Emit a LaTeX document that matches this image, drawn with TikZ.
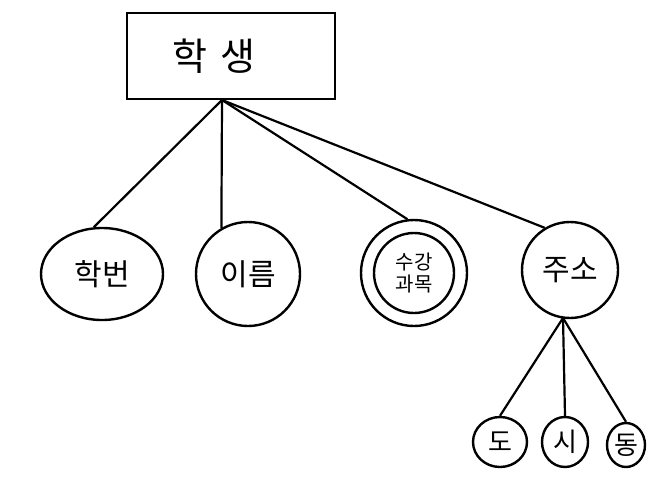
\documentclass[tikz,border=0pt]{standalone}
\usepackage{fontspec}
\newfontfamily\kr{Noto Sans CJK KR}
\usetikzlibrary{shapes.geometric}
\begin{document}
\begin{tikzpicture}[x=1pt,y=-1pt,line width=2.4pt,
  entity/.style={draw,rectangle,minimum width=208pt,minimum height=86pt,font=\kr\fontsize{38}{40}\selectfont},
  attr/.style={draw,circle,font=\kr\fontsize{30}{32}\selectfont,inner sep=0pt},
  small/.style={draw,ellipse,font=\kr\fontsize{26}{28}\selectfont,inner sep=0pt},
  link/.style={line width=2.2pt}]
\useasboundingbox (0,0) rectangle (652,492);
\node[entity] (st) at (231,56) {\hspace{-34pt}학\hspace{14pt}생};
\coordinate (o) at (222,100);
\node[draw,ellipse,minimum width=122pt,minimum height=92pt,inner sep=0pt,font=\kr\fontsize{30}{32}\selectfont] (hb) at (102,274) {학번};
\node[attr,minimum size=104pt] (nm) at (248,274) {이름};
\node[attr,minimum size=106pt] (sk) at (414,273) {};
\node[draw,circle,minimum size=80pt,font=\kr\fontsize{20}{22}\selectfont,align=center,inner sep=0pt] (ski) at (414,273) {수강\\과목};
\node[attr,minimum size=96pt] (ad) at (570,270) {주소};
\node[small,minimum width=54pt,minimum height=50pt] (do) at (500,442) {도};
\node[small,minimum width=46pt,minimum height=50pt] (si) at (565,442) {시};
\node[small,minimum width=38pt,minimum height=44pt] (dg) at (626,445) {동};
\draw[link] (o) -- (hb.100);
\draw[link] (o) -- (nm.120);
\draw[link] (o) -- (sk.97);
\draw[link] (o) -- (ad.121);
\coordinate (a) at (563,318);
\draw[link] (a) -- (do.north);
\draw[link] (a) -- (si.north);
\draw[link] (a) -- (dg.north);
\end{tikzpicture}
\end{document}
